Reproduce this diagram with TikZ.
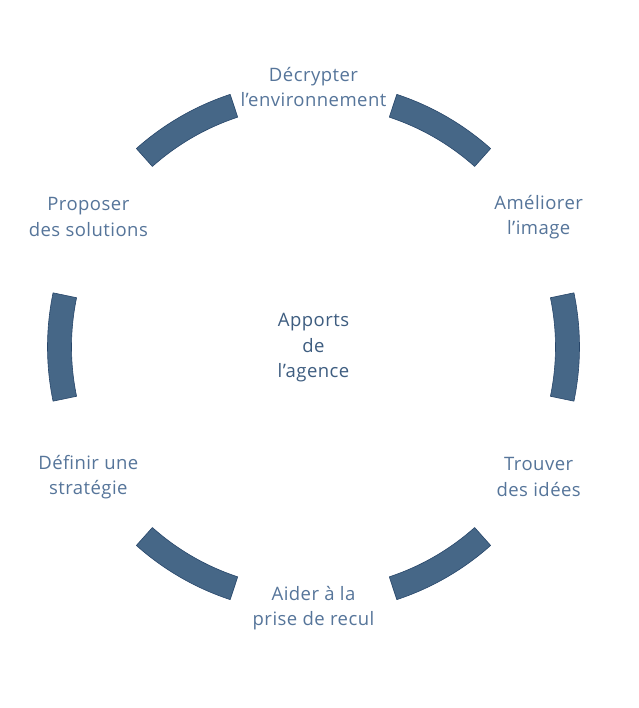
\documentclass[tikz,border=0pt]{standalone}
\usepackage{fontspec}
\setmainfont{Open Sans}[LetterSpace=2.5]
\definecolor{arcfill}{HTML}{466787}
\definecolor{arcedge}{HTML}{27466A}
\definecolor{labeltext}{HTML}{56759A}
\definecolor{centertext}{HTML}{3E5D80}
\begin{document}
\begin{tikzpicture}[x=1pt,y=1pt,
  ringarc/.style={fill=arcfill,draw=arcedge,line width=0.6pt,line join=round},
  lbl/.style={align=center,text=labeltext,inner sep=0pt,font=\fontsize{18.5}{25.5}\selectfont},
  ctr/.style={align=center,text=centertext,inner sep=0pt,font=\fontsize{18.5}{25.5}\selectfont}]
\useasboundingbox[fill=white] (-313.5,-361) rectangle (324.5,347);
\foreach \c in {0,60,120,180,240,300}{
  \draw[ringarc] (\c-11.75:266) arc[start angle=\c-11.75,end angle=\c+11.75,radius=266]
    -- (\c+11.75:242) arc[start angle=\c+11.75,end angle=\c-11.75,radius=242] -- cycle;
}
\node[lbl] (top) at (90:260) {Décrypter\\l’environnement};
\node[lbl] (tr) at (30:260) {Améliorer\\l’image};
\node[lbl] (br) at (-30:260) {Trouver\\des idées};
\node[lbl] (bottom) at (-90:261) {Aider à la\\prise de recul};
\node[lbl] (bl) at (-150:260) {Définir une\\stratégie};
\node[lbl] (tl) at (150:260) {Proposer\\des solutions};
\node[ctr] (center) at (0,-1) {Apports\\de\\l’agence};
\end{tikzpicture}
\end{document}
